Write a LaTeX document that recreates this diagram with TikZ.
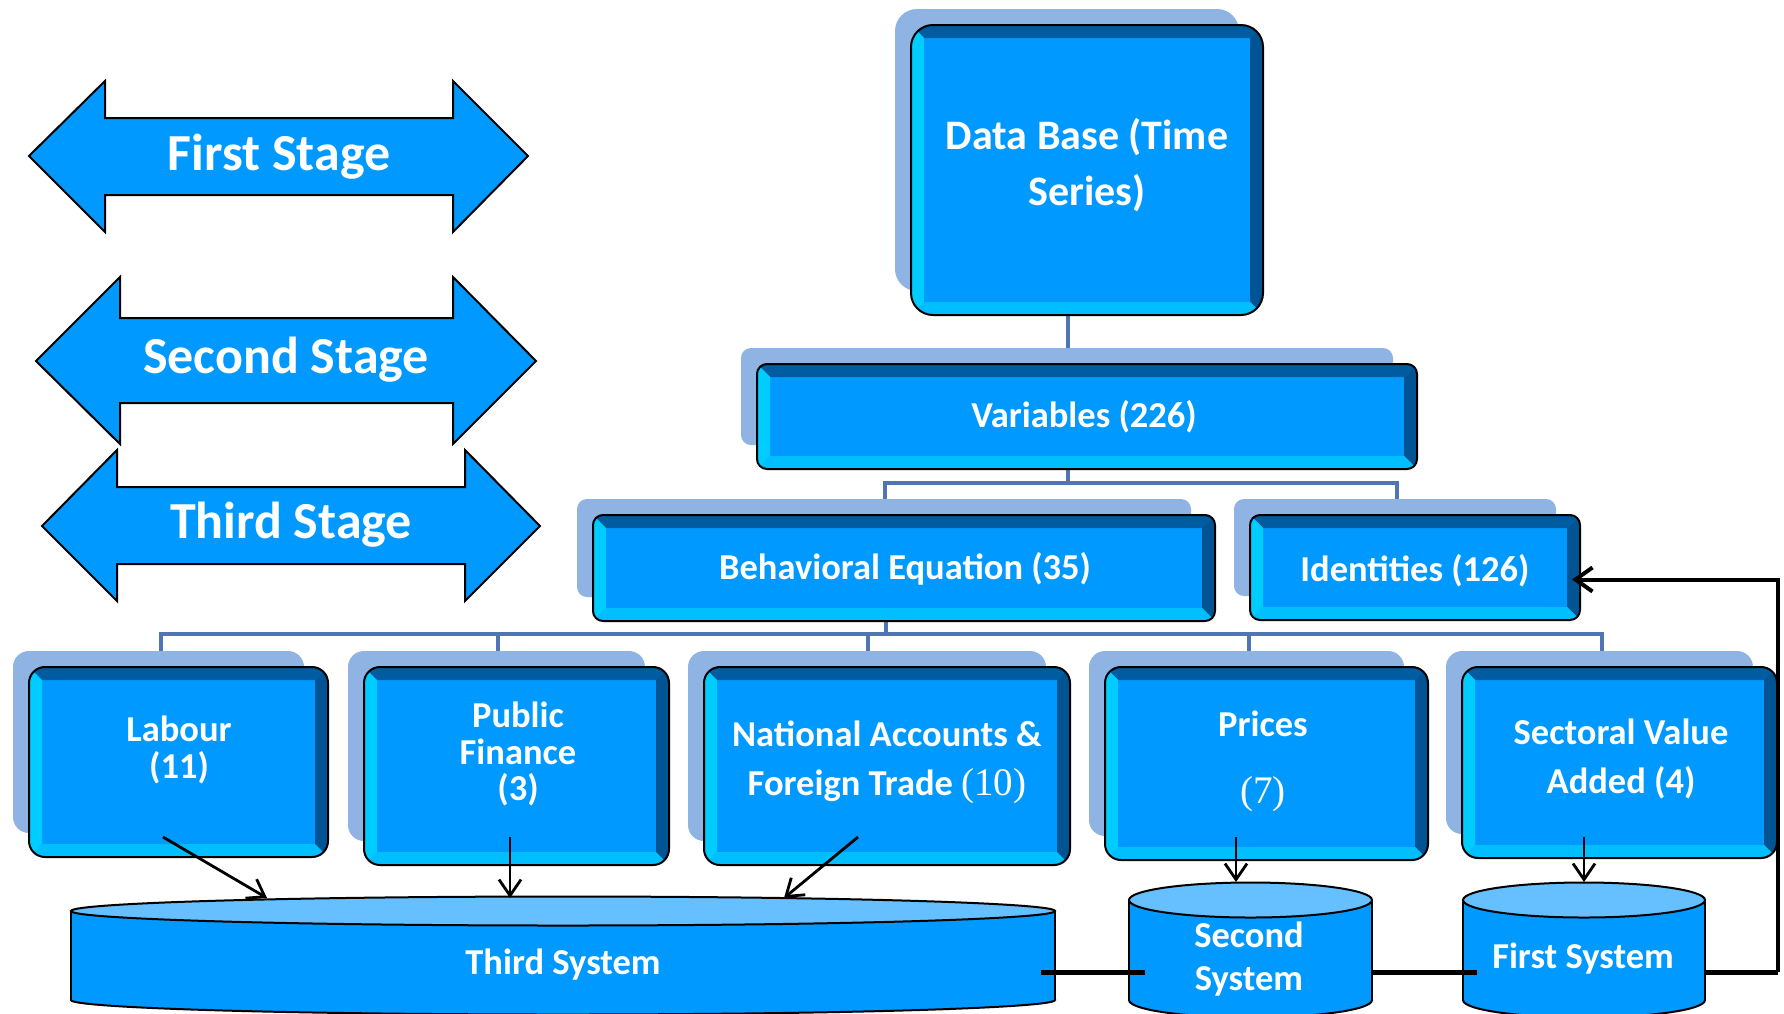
\documentclass[tikz,border=0pt]{standalone}
\usepackage{fontspec}
\setsansfont{Carlito}
\newfontfamily\numfam{Liberation Serif}
\usetikzlibrary{arrows.meta,fit,backgrounds}
\definecolor{mainblue}{RGB}{0,153,255}
\definecolor{bevtop}{RGB}{0,92,160}
\definecolor{bevright}{RGB}{0,84,148}
\definecolor{bevleft}{RGB}{0,205,255}
\definecolor{bevbot}{RGB}{0,190,255}
\definecolor{shadowblue}{RGB}{143,180,228}
\definecolor{treeblue}{RGB}{79,117,182}
\definecolor{cyltop}{RGB}{102,192,255}
\newcommand\lfont[2]{\sffamily\bfseries\fontsize{#1}{#2}\selectfont}
\newcommand\numf{\numfam\mdseries\fontsize{39}{39}\selectfont}
\tikzset{
  bevbox/.style={draw=black, line width=2pt, fill=mainblue, inner sep=0pt, rounded corners=#1,
    path picture={
      \path (path picture bounding box.north west) coordinate (q1)
            (path picture bounding box.north east) coordinate (q2)
            (path picture bounding box.south east) coordinate (q3)
            (path picture bounding box.south west) coordinate (q4);
      \fill[bevtop, sharp corners] (q1) -- (q2) -- ([xshift=-13pt,yshift=-13pt]q2) -- ([xshift=13pt,yshift=-13pt]q1) -- cycle;
      \fill[bevright, sharp corners] (q2) -- (q3) -- ([xshift=-13pt,yshift=13pt]q3) -- ([xshift=-13pt,yshift=-13pt]q2) -- cycle;
      \fill[bevbot, sharp corners] (q3) -- (q4) -- ([xshift=13pt,yshift=13pt]q4) -- ([xshift=-13pt,yshift=13pt]q3) -- cycle;
      \fill[bevleft, sharp corners] (q4) -- (q1) -- ([xshift=13pt,yshift=-13pt]q1) -- ([xshift=13pt,yshift=13pt]q4) -- cycle;
    }},
  lbl/.style={text=white, align=center, inner sep=0pt, font={\lfont{36.5}{36.5}}},
  stagearrow/.style={draw=black, line width=2pt, fill=mainblue, line join=miter},
  tree/.style={draw=treeblue, line width=4pt},
  arr/.style={draw=black, line width=2.8pt, -{Straight Barb[length=16pt,width=22pt]}},
  fbline/.style={draw=black, line width=5pt},
  loopline/.style={draw=black, line width=4pt, -{Straight Barb[length=17pt,width=24pt]}},
  cylline/.style={draw=black, line width=2pt}
}
\newcommand\mybox[6]{%
  \fill[shadowblue, rounded corners=#6] (#2-16,#3-16) rectangle (#4-24,#5-24);
  \node[bevbox=#6, fit={(#2,#3) (#4,#5)}] (#1) {};
}
% x1, x2, top centre y, ry, bottom centre y
\newcommand\cyl[5]{%
  \filldraw[cylline, fill=mainblue] ({(#1+#2)/2},#5) ellipse [x radius={(#2-#1)/2}, y radius=#4];
  \fill[mainblue] (#1,#3) rectangle (#2,#5);
  \draw[cylline] (#1,#3) -- (#1,#5);
  \draw[cylline] (#2,#3) -- (#2,#5);
  \filldraw[cylline, fill=cyltop] ({(#1+#2)/2},#3) ellipse [x radius={(#2-#1)/2}, y radius=#4];
}
\begin{document}
\begin{tikzpicture}[x=1pt,y=-1pt]
\useasboundingbox (0,0) rectangle (1784,1013);
\begin{scope}[on background layer]
  \fill[white] (0,0) rectangle (1784,1013);
\end{scope}

% stage arrows
\draw[stagearrow] (29,156) -- (105,81) -- (105,118) -- (453,118) -- (453,81) -- (528,156) -- (453,232) -- (453,195) -- (105,195) -- (105,232) -- cycle;
\draw[stagearrow] (36,361) -- (120,277) -- (120,318) -- (453,318) -- (453,277) -- (536,361) -- (453,444) -- (453,403) -- (120,403) -- (120,444) -- cycle;
\draw[stagearrow] (42,526) -- (117,450) -- (117,487) -- (465,487) -- (465,450) -- (540,526) -- (465,601) -- (465,564) -- (117,564) -- (117,601) -- cycle;
\node[lbl, font={\lfont{52}{52}}] (s1) at (279,157) {First Stage};
\node[lbl, font={\lfont{52}{52}}] (s2) at (286,360) {Second Stage};
\node[lbl, font={\lfont{52}{52}}] (s3) at (291,525) {Third Stage};

% boxes
\mybox{db}{911}{25}{1263}{315}{22}
\mybox{var}{757}{364}{1417}{469}{10}
\mybox{beh}{593}{515}{1215}{621}{10}
\mybox{ide}{1250}{515}{1580}{620}{10}
\mybox{lab}{29}{667}{328}{857}{16}
\mybox{pf}{364}{667}{669}{865}{16}
\mybox{na}{704}{667}{1070}{865}{16}
\mybox{pr}{1105}{667}{1428}{860}{16}
\mybox{se}{1462}{667}{1777}{858}{16}

\node[lbl, font={\lfont{42}{56}}] (dbt) at (1087,165) {Data Base (Time\\Series)};
\node[lbl] (vart) at (1084,417) {Variables (226)};
\node[lbl] (beht) at (905,569) {Behavioral Equation (35)};
\node[lbl] (idet) at (1415,571) {Identities (126)};
\node[lbl] (labt) at (179,750) {Labour\\(11)};
\node[lbl] (pft) at (518,754) {Public\\Finance\\(3)};
\node[lbl, font={\lfont{36.5}{49}}] (nat) at (887,762) {National Accounts \&\\Foreign Trade {\numf(10)}};
\node[lbl, font={\lfont{36.5}{67}}] (prt) at (1263,761) {Prices\\{\numf(7)}};
\node[lbl, font={\lfont{36.5}{49}}] (set) at (1621,759) {Sectoral Value\\Added (4)};

% cylinders
\cyl{71}{1055}{911}{14.5}{1000}
\cyl{1129}{1372}{900}{17.5}{1000}
\cyl{1463}{1705}{900}{17.5}{1000}
\node[lbl] (tst) at (563,965) {Third System};
\node[lbl, font={\lfont{36.5}{43}}] (sst) at (1249,959) {Second\\System};
\node[lbl] (fst) at (1583,959) {First System};

% tree connectors (behind)
\begin{scope}[on background layer]
  \coordinate (j1) at (1068,483);
  \coordinate (j2) at (886,634);
  \draw[tree] ([xshift=-19pt]db.south) -- ([xshift=-19pt]var.north);
  \draw[tree] ([xshift=-19pt]var.south) -- (j1);
  \draw[tree] ([xshift=-19pt]beh.north) |- (j1);
  \draw[tree] ([xshift=-18pt]ide.north) |- (j1);
  \draw[tree] ([xshift=-18pt]beh.south) -- (j2);
  \draw[tree] ([xshift=-18pt]lab.north) |- (j2);
  \draw[tree] ([xshift=-19pt]pf.north) |- (j2);
  \draw[tree] ([xshift=-19pt]na.north) |- (j2);
  \draw[tree] ([xshift=-18pt]pr.north) |- (j2);
  \draw[tree] ([xshift=-18pt]se.north) |- (j2);
\end{scope}

% arrows into systems
\coordinate (la1) at (163,837); \coordinate (la2) at (267,898);
\coordinate (pa1) at (510,837); \coordinate (pa2) at (510,898);
\coordinate (na1) at (858,837); \coordinate (na2) at (784,898);
\coordinate (pr1) at (1236,837); \coordinate (pr2) at (1236,882);
\coordinate (se1) at (1584,837); \coordinate (se2) at (1584,882);
\draw[arr] (la1) -- (la2);
\draw[arr] (pa1) -- (pa2);
\draw[arr] (na1) -- (na2);
\draw[arr] (pr1) -- (pr2);
\draw[arr] (se1) -- (se2);

% feedback line
\coordinate (f1) at (1041,972); \coordinate (f2) at (1145,972);
\coordinate (f3) at (1372,972); \coordinate (f4) at (1477,972);
\coordinate (f5) at (1705,972); \coordinate (f6) at (1778,972);
\draw[fbline] (f1) -- (f2);
\draw[fbline] (f3) -- (f4);
\draw[fbline] (f5) -- (f6);
\draw[loopline] (f6) |- ([xshift=-9pt,yshift=-12pt]ide.east);
\end{tikzpicture}
\end{document}
